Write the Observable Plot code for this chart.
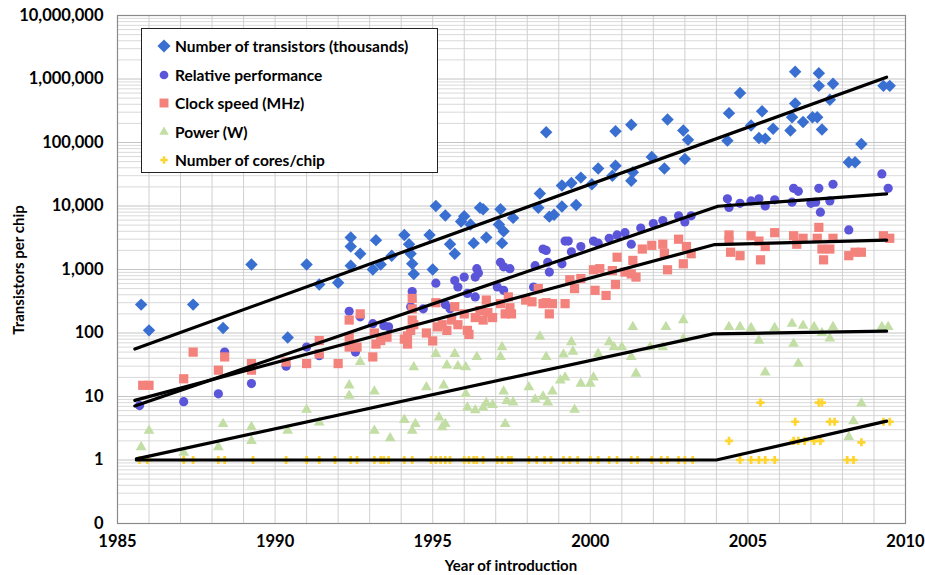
<!DOCTYPE html>
<html>
<head>
<meta charset="utf-8">
<script src="https://cdn.jsdelivr.net/npm/d3@7"></script>
<script src="https://cdn.jsdelivr.net/npm/@observablehq/plot@0.6"></script>
<style>
  html, body { margin: 0; padding: 0; background: #fff; }
  #wrap { position: relative; width: 925px; height: 575px; font-family: Lato, "DejaVu Sans", sans-serif; font-weight: bold; }
  #legend { position: absolute; left: 141px; top: 28px; width: 297px; height: 145px; border: 1px solid #222; background: #fff; box-sizing: border-box; }
  .lrow { position: absolute; left: 14px; height: 20px; display: flex; align-items: center; font-size: 15.5px; color: #000; white-space: nowrap; }
  .lrow svg { width: 16px; height: 16px; margin-right: 3px; }
  #xtitle { position: absolute; left: 0; width: 1022px; top: 556px; text-align: center; font-size: 15px; }
  #ytitle { position: absolute; left: 18px; top: 270px; transform: translate(-50%, -50%) rotate(-90deg); font-size: 15px; white-space: nowrap; }
</style>
</head>
<body>
<div id="wrap">
  <div id="chart"></div>
  <div id="legend"></div>
  <div id="xtitle">Year of introduction</div>
  <div id="ytitle">Transistors per chip</div>
</div>
<script>
// ---- Data (year, value) ----
const transistors = [[1985.75,280],[1986.0,110],[1987.4,280],[1988.35,120],[1989.25,1200],[1990.4,85],[1991.0,1200],[1991.4,580],[1992.0,620],[1992.4,3200],[1992.4,2300],[1992.7,1770],[1992.4,1150],[1993.1,1000],[1993.2,2900],[1993.35,1200],[1993.7,1650],[1994.1,3500],[1994.25,2500],[1994.3,1770],[1994.35,1230],[1994.4,850],[1994.9,3500],[1995.0,1000],[1995.1,10000],[1995.4,7100],[1995.55,2500],[1995.7,1770],[1995.9,5700],[1996.0,6900],[1996.2,5100],[1996.3,2600],[1996.5,9400],[1996.6,8900],[1996.7,3200],[1997.15,8900],[1997.25,4000],[1997.2,2600],[1997.1,5100],[1997.55,6500],[1998.4,15700],[1998.35,9400],[1998.6,145000],[1998.7,6800],[1998.85,7300],[1999.1,9800],[1999.1,21000],[1999.4,23000],[1999.55,10400],[1999.7,28000],[2000.05,22000],[2000.25,39000],[2000.7,30000],[2000.8,43000],[2000.8,150000],[2001.3,190000],[2001.35,34000],[2001.3,25000],[2001.95,59000],[2002.35,39000],[2002.45,230000],[2002.95,155000],[2003.1,110000],[2003.0,55000],[2004.35,107000],[2004.4,290000],[2004.75,600000],[2005.1,185000],[2005.35,118000],[2005.55,115000],[2005.45,310000],[2005.8,165000],[2006.35,155000],[2006.4,250000],[2006.5,410000],[2006.5,1300000],[2006.75,210000],[2007.05,250000],[2007.2,250000],[2007.25,1230000],[2007.25,780000],[2007.35,160000],[2007.6,470000],[2007.7,840000],[2008.2,49000],[2008.4,49000],[2008.6,95000],[2009.3,780000],[2009.5,780000]];

const performance = [[1985.7,7.2],[1987.1,8.3],[1988.2,11],[1988.4,50],[1989.25,16],[1990.35,30],[1991.0,60],[1991.4,44],[1992.35,220],[1992.7,180],[1992.55,50],[1993.1,140],[1993.45,130],[1993.6,125],[1994.35,450],[1994.3,260],[1994.7,240],[1995.1,610],[1995.4,280],[1995.55,240],[1995.7,670],[1995.8,530],[1996.0,760],[1996.1,420],[1996.35,370],[1996.4,1030],[1996.45,880],[1996.35,760],[1997.15,1300],[1997.25,1100],[1997.05,530],[1997.25,470],[1997.45,1030],[1998.25,1150],[1998.2,530],[1998.5,2100],[1998.6,2000],[1998.65,1300],[1998.7,910],[1999.1,1230],[1999.2,2800],[1999.3,2800],[1999.4,1900],[1999.7,2300],[2000.1,2800],[2000.25,2600],[2000.6,3100],[2000.85,3500],[2001.1,3800],[2001.3,2500],[2001.6,4500],[2002.0,5300],[2002.3,5900],[2002.8,7000],[2003.0,5600],[2003.2,7000],[2004.35,13000],[2004.4,9500],[2004.75,11000],[2005.1,12000],[2005.35,13000],[2005.55,10000],[2005.85,12500],[2006.45,19000],[2006.6,17000],[2006.4,11500],[2007.0,11000],[2007.15,11500],[2007.25,19000],[2007.3,8000],[2007.6,12000],[2007.7,22000],[2008.2,4200],[2009.25,32000],[2009.45,19000]];

const clockSpeed = [[1985.8,15],[1986.0,15],[1987.1,19],[1987.4,50],[1988.2,26],[1988.4,42],[1989.25,33],[1989.25,26],[1990.35,35],[1991.0,33],[1991.4,76],[1991.4,47],[1992.0,33],[1992.35,160],[1992.35,86],[1992.35,60],[1992.7,200],[1992.6,60],[1993.1,42],[1993.15,100],[1993.2,67],[1993.35,76],[1993.55,86],[1994.1,80],[1994.2,90],[1994.3,110],[1994.35,350],[1994.35,240],[1994.35,160],[1994.4,135],[1994.2,67],[1994.8,100],[1995.0,75],[1995.1,300],[1995.15,125],[1995.3,135],[1995.45,110],[1995.6,160],[1995.7,260],[1995.8,135],[1996.0,200],[1996.1,110],[1996.15,95],[1996.35,175],[1996.5,225],[1996.6,160],[1996.7,330],[1996.75,210],[1996.9,175],[1997.15,290],[1997.3,200],[1997.4,370],[1997.45,250],[1997.5,200],[1997.95,330],[1998.15,310],[1998.35,500],[1998.5,290],[1998.6,300],[1998.7,200],[1998.8,290],[1999.2,290],[1999.35,690],[1999.5,500],[1999.7,720],[2000.1,990],[2000.15,470],[2000.3,1030],[2000.5,390],[2000.7,960],[2000.8,580],[2000.85,1560],[2001.1,910],[2001.3,850],[2001.45,760],[2001.35,1390],[2001.65,2100],[2001.95,2400],[2002.3,2500],[2002.35,1800],[2002.45,990],[2002.8,3000],[2002.95,1230],[2003.05,2300],[2003.2,1770],[2004.4,3500],[2004.4,2800],[2004.45,1870],[2004.75,1650],[2005.1,3400],[2005.35,2800],[2005.4,1420],[2005.55,2300],[2005.85,3800],[2006.45,3400],[2006.55,2500],[2006.75,3100],[2007.25,4600],[2007.2,3100],[2007.35,2100],[2007.4,1420],[2007.6,2100],[2007.7,3100],[2008.2,1650],[2008.4,1870],[2008.6,1870],[2009.3,3400],[2009.5,3100]];

const power = [[1985.75,1.6],[1986.0,2.9],[1987.1,1.3],[1988.2,1.6],[1988.35,3.7],[1989.25,3.3],[1989.25,2.0],[1990.4,2.9],[1991.0,6.2],[1991.4,3.9],[1992.35,15],[1992.35,10.3],[1992.7,35],[1993.15,12],[1993.15,2.9],[1993.65,2.2],[1994.1,4.3],[1994.4,29],[1994.45,3.7],[1994.35,2.9],[1994.8,14],[1995.1,47],[1995.2,4.7],[1995.3,3.3],[1995.35,15],[1995.4,3.7],[1995.7,47],[1995.45,31],[1995.8,30],[1996.05,29],[1996.05,11],[1996.1,6.7],[1996.35,6.1],[1996.4,42],[1996.6,6.7],[1996.7,7.9],[1996.9,7.4],[1997.15,42],[1997.2,60],[1997.25,12],[1997.3,3.7],[1997.35,8.5],[1997.55,8.1],[1998.05,14],[1998.25,9],[1998.4,88],[1998.5,10],[1998.6,42],[1998.65,8.1],[1998.8,12],[1999.05,18],[1999.15,46],[1999.2,20],[1999.4,72],[1999.45,51],[1999.5,6.2],[1999.7,16],[2000.0,16],[2000.1,20],[2000.25,47],[2000.6,72],[2000.75,60],[2001.0,60],[2001.3,42],[2001.35,125],[2001.45,23],[2001.9,60],[2002.3,60],[2002.4,125],[2002.95,160],[2002.95,80],[2004.4,125],[2004.75,125],[2005.1,120],[2005.35,76],[2005.55,24],[2005.85,120],[2006.4,140],[2006.45,68],[2006.6,33],[2006.75,130],[2007.1,125],[2007.35,100],[2007.6,82],[2007.7,125],[2008.6,7.8],[2008.35,4.1],[2008.2,2.3],[2009.25,125],[2009.45,125]];

const cores = [[1985.7,1],[1985.95,1],[1987.1,1],[1987.4,1],[1988.2,1],[1988.4,1],[1989.3,1],[1990.35,1],[1991.0,1],[1991.4,1],[1991.9,1],[1992.4,1],[1992.6,1],[1993.15,1],[1993.35,1],[1993.45,1],[1993.6,1],[1994.1,1],[1994.35,1],[1994.95,1],[1995.1,1],[1995.25,1],[1995.4,1],[1995.55,1],[1996.0,1],[1996.15,1],[1996.3,1],[1996.4,1],[1996.6,1],[1997.05,1],[1997.2,1],[1997.4,1],[1997.5,1],[1998.05,1],[1998.3,1],[1998.55,1],[1998.75,1],[1999.15,1],[1999.35,1],[1999.6,1],[2000.0,1],[2000.25,1],[2000.6,1],[2000.85,1],[2001.3,1],[2001.5,1],[2001.95,1],[2002.25,1],[2002.45,1],[2002.8,1],[2003.0,1],[2003.25,1],[2004.4,2],[2004.75,1],[2005.1,1],[2005.35,1],[2005.55,1],[2005.85,1],[2005.4,8],[2006.5,4],[2006.45,2],[2006.6,2],[2006.8,2],[2007.1,2],[2007.3,2],[2007.25,8],[2007.35,8],[2007.6,4],[2007.75,4],[2008.15,1],[2008.35,1],[2008.6,1.9],[2009.3,4],[2009.5,4]];

// Trend lines (piecewise)
const transistorTrend = [[1985.55,56],[2009.4,1070000]];
const performanceTrend = [[1985.55,7.1],[2004.05,9900],[2009.4,15500]];
const clockTrend = [[1985.55,8.7],[2003.95,2470],[2009.4,2900]];
const powerTrend = [[1985.6,1.04],[2003.9,97],[2009.4,107]];
const coresTrend = [[1985.6,1],[2004.0,1],[2009.4,4.1]];

// Axis ticks
const yTicks = [0.1, 1, 10, 100, 1000, 10000, 100000, 1000000, 10000000];
const xTicks = [1985, 1990, 1995, 2000, 2005, 2010];
const yearGrid = d3.range(1985, 2011);
const minorGrid = d3.range(-1, 7).flatMap(e => d3.range(2, 10).map(m => m * Math.pow(10, e)));

const seriesInfo = [
  {name: "Number of transistors (thousands)", data: transistors, symbol: "diamond2", fill: "#3a6fd2", r: 5.6},
  {name: "Relative performance", data: performance, symbol: "circle", fill: "#5b55d9", r: 4.6},
  {name: "Clock speed (MHz)", data: clockSpeed, symbol: "square", fill: "#f4827c", r: 5.2},
  {name: "Power (W)", data: power, symbol: "triangle", fill: "#c2dea4", r: 4},
  {name: "Number of cores/chip", data: cores, symbol: "cross", fill: "#fed52e", r: 3.4}
];
const trends = [transistorTrend, performanceTrend, clockTrend, powerTrend, coresTrend];

const fmt = d3.format(",");
const chart = Plot.plot({
  width: 925,
  height: 575,
  marginLeft: 117,
  marginRight: 20,
  marginTop: 15,
  marginBottom: 52,
  style: {fontFamily: "Lato, 'DejaVu Sans', sans-serif", fontWeight: "bold", fontSize: "16px", color: "#000", background: "#fff"},
  x: {domain: [1985, 2010], ticks: xTicks, tickFormat: d => String(d), tickSize: 0, tickPadding: 12, label: null},
  y: {type: "log", domain: [0.1, 1e7], ticks: yTicks, tickFormat: d => d < 1 ? "0" : fmt(d), tickSize: 0, tickPadding: 14, label: null},
  marks: [
    Plot.ruleY(minorGrid, {stroke: "#d9d9d9", strokeWidth: 1}),
    Plot.ruleX(yearGrid, {stroke: "#d0d0d0", strokeWidth: 1}),
    Plot.ruleY(yTicks, {stroke: "#c4c4c4", strokeWidth: 1}),
    Plot.frame({stroke: "#8a8a8a", strokeWidth: 1.2}),
    ...seriesInfo.map(s => Plot.dot(s.data, {x: d => d[0], y: d => d[1], symbol: () => s.symbol, fill: s.fill, r: s.r, stroke: "none"})),
    ...trends.map(t => Plot.line(t, {x: d => d[0], y: d => d[1], stroke: "#000", strokeWidth: 3.2})),
    Plot.axisX({ticks: xTicks, tickFormat: d => String(d), tickSize: 0, tickPadding: 12, label: null, fontSize: 16.5}),
    Plot.axisY({ticks: yTicks, tickFormat: d => d < 1 ? "0" : fmt(d), tickSize: 0, tickPadding: 14, label: null, fontSize: 16.5})
  ]
});
document.getElementById("chart").appendChild(chart);

// Legend
const legend = document.getElementById("legend");
const symPath = {
  diamond2: d3.symbol(d3.symbolDiamond2, 110)(),
  circle: d3.symbol(d3.symbolCircle, 60)(),
  square: d3.symbol(d3.symbolSquare, 80)(),
  triangle: d3.symbol(d3.symbolTriangle, 40)(),
  cross: d3.symbol(d3.symbolCross, 30)()
};
seriesInfo.forEach((s, i) => {
  const row = document.createElement("div");
  row.className = "lrow";
  row.style.top = (7 + i * 28.6) + "px";
  row.innerHTML = `<svg viewBox="-8 -8 16 16"><path d="${symPath[s.symbol]}" fill="${s.fill}"></path></svg><span>${s.name}</span>`;
  legend.appendChild(row);
});
</script>
</body>
</html>
